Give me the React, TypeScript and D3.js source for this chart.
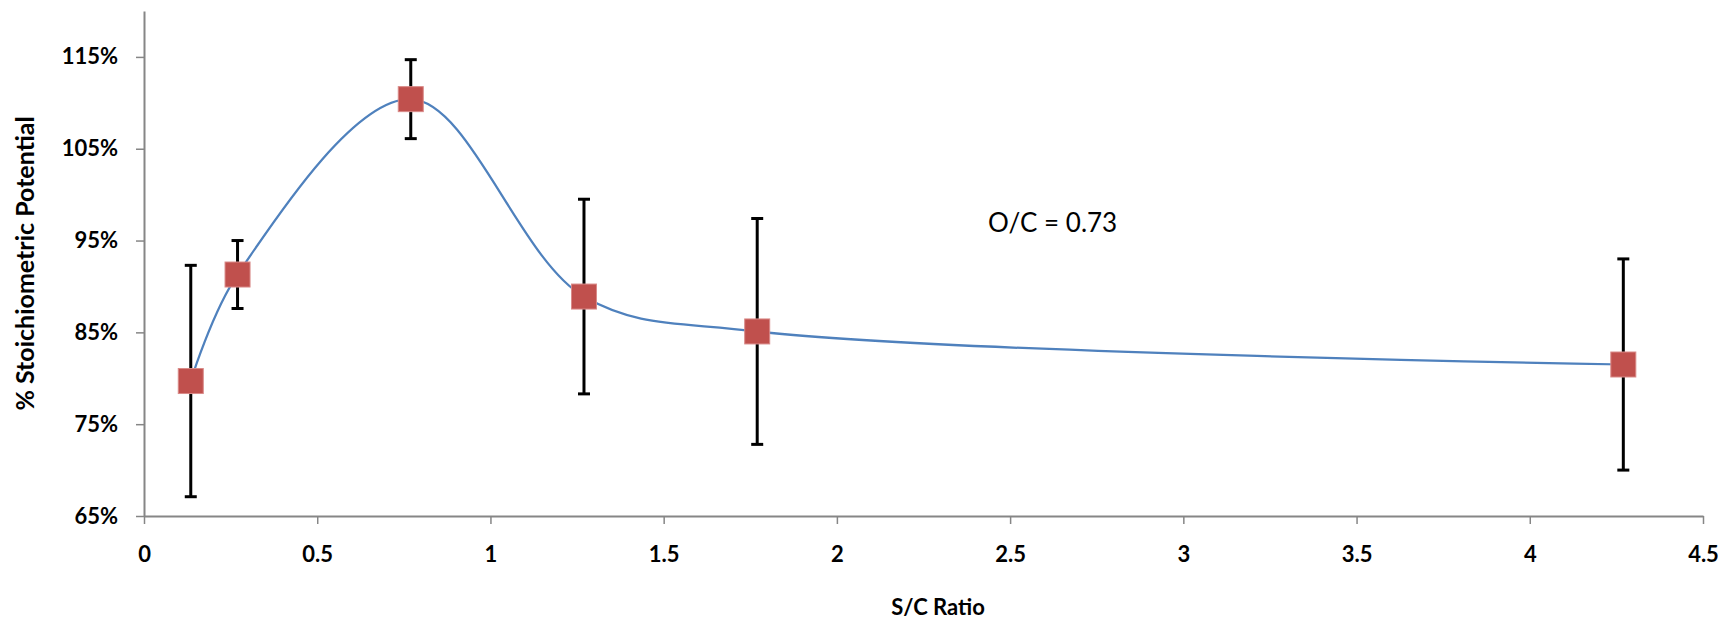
import React, { useEffect, useRef } from 'react';
import * as d3 from 'd3';

// S/C ratio vs % stoichiometric potential (O/C = 0.73)
const scRatio = [0.135, 0.27, 0.77, 1.27, 1.77, 4.27];
const stoichPct = [0.797, 0.913, 1.104, 0.889, 0.851, 0.815];
const errPct = [0.126, 0.037, 0.043, 0.106, 0.123, 0.115];

const xTicks = [0, 0.5, 1, 1.5, 2, 2.5, 3, 3.5, 4, 4.5];
const yTicks = [0.65, 0.75, 0.85, 0.95, 1.05, 1.15];

const W = 1734;
const H = 625;
const FONT = 'Lato, "Open Sans", sans-serif';

export default function App() {
  const svgRef = useRef<SVGSVGElement | null>(null);

  useEffect(() => {
    if (!svgRef.current) return;
    const svg = d3.select(svgRef.current);
    svg.selectAll('*').remove();

    const left = 144, right = 1703, top = 11, bottom = 516;
    const x = d3.scaleLinear().domain([0, 4.5]).range([left, right]);
    const y = d3.scaleLinear().domain([0.65, 1.2]).range([bottom, top]);

    const axisColor = '#868686';

    // x axis
    svg.append('g')
      .attr('transform', `translate(0,${bottom})`)
      .call(d3.axisBottom(x).tickValues(xTicks).tickSize(8).tickSizeOuter(0).tickPadding(22)
        .tickFormat(d => `${d}`))
      .call(g => g.select('.domain').attr('stroke', axisColor).attr('stroke-width', 2))
      .call(g => g.selectAll('.tick line').attr('stroke', axisColor).attr('stroke-width', 1.5))
      .call(g => g.selectAll('text').attr('fill', '#000').style('font-family', FONT)
        .style('font-size', '22px').style('font-weight', 'bold'));

    // y axis
    svg.append('g')
      .attr('transform', `translate(${left},0)`)
      .call(d3.axisLeft(y).tickValues(yTicks).tickSize(8).tickSizeOuter(0).tickPadding(18)
        .tickFormat(d => `${Math.round(+d * 100)}%`))
      .call(g => g.select('.domain').attr('stroke', axisColor).attr('stroke-width', 2))
      .call(g => g.selectAll('.tick line').attr('stroke', axisColor).attr('stroke-width', 1.5))
      .call(g => g.selectAll('text').attr('fill', '#000').style('font-family', FONT)
        .style('font-size', '22px').style('font-weight', 'bold'));

    // axis titles
    svg.append('text')
      .attr('x', 938).attr('y', 615)
      .attr('text-anchor', 'middle')
      .style('font-family', FONT).style('font-size', '22px').style('font-weight', 'bold')
      .text('S/C Ratio');

    svg.append('text')
      .attr('transform', `translate(34,${(top + bottom) / 2}) rotate(-90)`)
      .attr('text-anchor', 'middle')
      .style('font-family', FONT).style('font-size', '25px').style('font-weight', 'bold')
      .text('% Stoichiometric Potential');

    // annotation
    svg.append('text')
      .attr('x', 988).attr('y', 232)
      .style('font-family', FONT).style('font-size', '26px')
      .text('O/C = 0.73');

    const pts: [number, number][] = scRatio.map((s, i) => [s, stoichPct[i]]);

    // smoothed line
    const line = d3.line<[number, number]>()
      .x(d => x(d[0])).y(d => y(d[1]))
      .curve(d3.curveCatmullRom.alpha(0.5));

    svg.append('path')
      .datum(pts)
      .attr('fill', 'none')
      .attr('stroke', '#4F81BD')
      .attr('stroke-width', 2.25)
      .attr('d', line);

    // error bars
    const eb = svg.append('g').attr('stroke', '#000').attr('stroke-width', 3);
    pts.forEach((p, i) => {
      const cx = x(p[0]);
      const y1 = y(p[1] + errPct[i]);
      const y2 = y(p[1] - errPct[i]);
      eb.append('line').attr('x1', cx).attr('x2', cx).attr('y1', y1).attr('y2', y2);
      eb.append('line').attr('x1', cx - 6).attr('x2', cx + 6).attr('y1', y1).attr('y2', y1);
      eb.append('line').attr('x1', cx - 6).attr('x2', cx + 6).attr('y1', y2).attr('y2', y2);
    });

    // markers
    const sz = 25;
    svg.append('g').selectAll('rect')
      .data(pts)
      .join('rect')
      .attr('x', d => x(d[0]) - sz / 2)
      .attr('y', d => y(d[1]) - sz / 2)
      .attr('width', sz).attr('height', sz)
      .attr('fill', '#C0504D')
      .attr('stroke', '#D98A88')
      .attr('stroke-width', 1);
  }, []);

  return (
    <svg
      ref={svgRef}
      width={W}
      height={H}
      style={{ position: 'absolute', left: 0, top: 0, display: 'block', background: '#fff' }}
    />
  );
}
